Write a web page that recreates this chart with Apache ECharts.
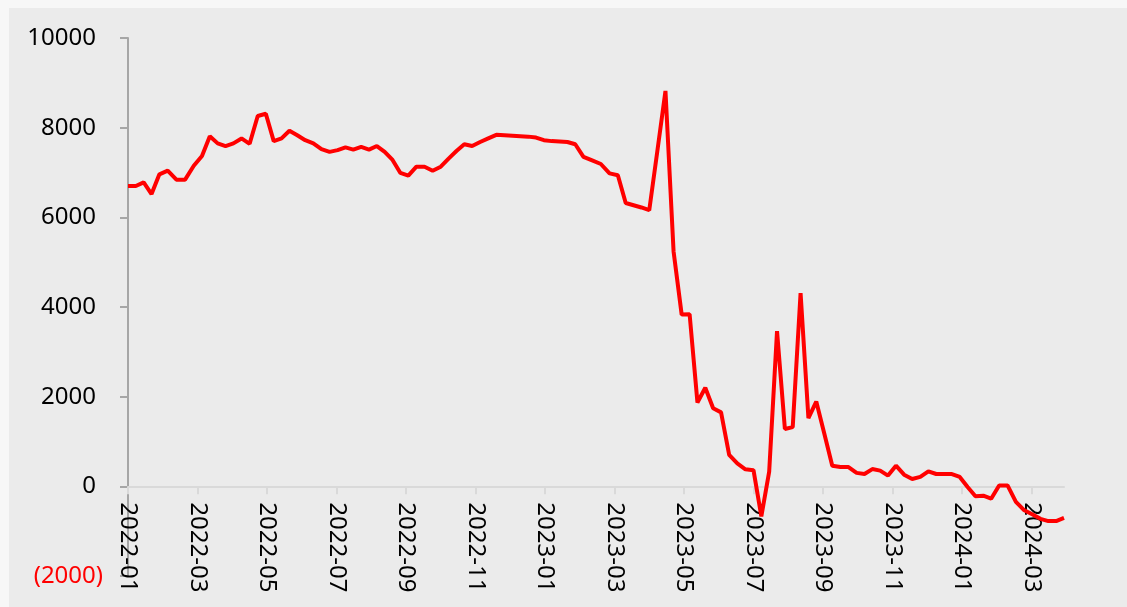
<!DOCTYPE html>
<html>
<head>
<meta charset="utf-8">
<script src="https://cdn.jsdelivr.net/npm/echarts@6/dist/echarts.min.js"></script>
<style>
  html, body { margin: 0; padding: 0; background: #f7f7f7; }
  #chart { position: absolute; left: 9px; top: 8px; width: 1118px; height: 599px; background: #ebebeb; }
</style>
</head>
<body>
<div id="chart"></div>
<script>
// weekly series starting 2022-01-01
const startDate = '2022-01-01'
const values = [
  6700, 6700, 6780, 6520, 6960, 7040, 6840, 6840, 7150, 7370,
  7810, 7650, 7590, 7650, 7760, 7640, 8260, 8310, 7700, 7760,
  7930, 7830, 7720, 7650, 7520, 7460, 7500, 7560, 7510, 7570,
  7510, 7590, 7460, 7280, 6990, 6930, 7130, 7130, 7040, 7130,
  7310, 7480, 7630, 7590, 7680, 7760, 7840, 7830, 7820, 7810,
  7800, 7780, 7720, 7700, 7690, 7680, 7630, 7350, 7270, 7190,
  6980, 6940, 6320, 6270, 6220, 6160, 7480, 8820, 5240, 3830,
  3840, 1870, 2200, 1740, 1650, 700, 510, 380, 360, -670,
  330, 3460, 1280, 1320, 4310, 1520, 1890, 1190, 460, 430,
  430, 300, 275, 385, 350, 240, 460, 260, 165, 210,
  335, 275, 275, 275, 210, -15, -220, -210, -275, 20,
  20, -345, -535, -630, -725, -775, -775, -705
]
const tickLabels = [
  '2022-01', '2022-03', '2022-05', '2022-07', '2022-09', '2022-11',
  '2023-01', '2023-03', '2023-05', '2023-07', '2023-09', '2023-11',
  '2024-01', '2024-03'
]
const yTicks = [-2000, 0, 2000, 4000, 6000, 8000, 10000]

// dates for each weekly point
const dates = values.map((v, i) => {
  const d = new Date(startDate + 'T00:00:00Z')
  d.setUTCDate(d.getUTCDate() + i * 7)
  return d.toISOString().slice(0, 10)
})

// month position counted from 2022-01 (each month same width on the axis)
function monthPos(s) {
  const [y, m, d] = s.split('-').map(Number)
  const dim = new Date(Date.UTC(y, m, 0)).getUTCDate()
  return (y - 2022) * 12 + (m - 1) + (d - 1) / dim
}
function posLabel(p) {
  const m = Math.round(p)
  const y = 2022 + Math.floor(m / 12)
  const mm = (m % 12) + 1
  return y + '-' + (mm < 10 ? '0' + mm : mm)
}

const tickPos = tickLabels.map(t => monthPos(t + '-01'))
const seriesData = dates.map((d, i) => [monthPos(d), values[i]])

const grid = { left: 119, right: 63, top: 30, bottom: 31 }
const chartHeight = 599
const yMin = yTicks[0]
const yMax = yTicks[yTicks.length - 1]
// lift the date axis from the grid bottom up to the zero line
const zeroOffset = -(chartHeight - grid.top - grid.bottom) * (0 - yMin) / (yMax - yMin)

const font = '"Noto Sans", "Noto Sans CJK SC", sans-serif'
const myChart = echarts.init(document.getElementById('chart'))
const option = {
  animation: false,
  grid: Object.assign({ containLabel: false, outerBoundsMode: 'none' }, grid),
  xAxis: {
    type: 'value',
    min: 0,
    max: 'dataMax',
    position: 'bottom',
    offset: zeroOffset,
    axisLine: { onZero: false, lineStyle: { color: '#d9d9d9', width: 2 } },
    axisTick: { show: true, length: 8, customValues: tickPos, lineStyle: { color: '#d9d9d9', width: 2 } },
    axisLabel: {
      customValues: tickPos,
      rotate: -90,
      margin: 16,
      color: '#000',
      fontSize: 24,
      fontFamily: font,
      formatter: v => posLabel(v)
    },
    splitLine: { show: false }
  },
  yAxis: {
    type: 'value',
    min: yMin,
    max: yMax,
    interval: 2000,
    axisLine: { show: true, lineStyle: { color: '#a6a6a6', width: 2 } },
    axisTick: { show: true, length: 8, lineStyle: { color: '#a6a6a6', width: 2 } },
    axisLabel: {
      margin: 25,
      fontSize: 24,
      fontFamily: font,
      // negatives in red brackets, positives keep room for the bracket
      formatter: v => (v < 0 ? '{n|(' + (-v) + ')}' : '{p|' + v + '}'),
      rich: {
        p: { color: '#000', fontSize: 24, fontFamily: font, padding: [0, 7, 0, 0] },
        n: { color: '#ff0000', fontSize: 24, fontFamily: font }
      }
    },
    splitLine: { show: false }
  },
  series: [
    {
      type: 'line',
      data: seriesData,
      showSymbol: false,
      symbol: 'none',
      lineStyle: { color: '#ff0000', width: 4 },
      z: 5
    }
  ]
}
myChart.setOption(option)
</script>
</body>
</html>
